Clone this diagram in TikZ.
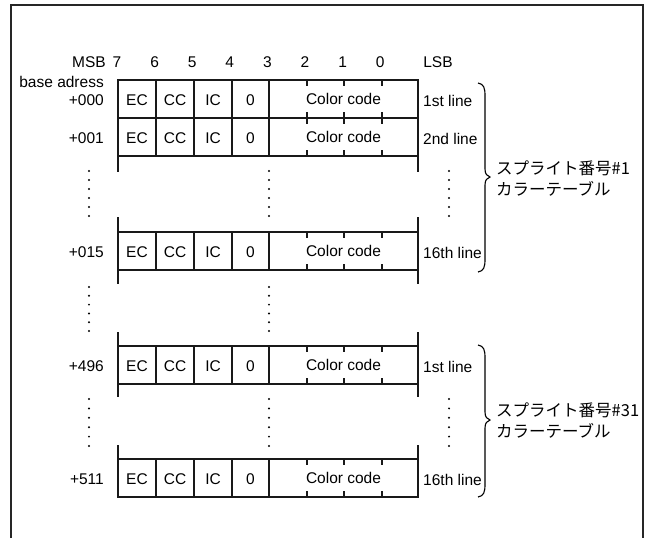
\documentclass[tikz,border=0pt]{standalone}
\usepackage{fontspec}
\setmainfont{Liberation Sans}
\newfontfamily\jpfont{Noto Sans CJK JP}
\begin{document}
\begin{tikzpicture}[x=1pt,y=-1pt,
  frame/.style={line width=1.8pt,draw=black!85},
  tbl/.style={line width=1.3pt,draw=black!90},
  lbl/.style={font=\fontsize{15.5}{17}\selectfont,inner sep=0pt},
  jp/.style={font=\jpfont\fontsize{16.5}{20}\selectfont,inner sep=0pt,anchor=west,align=left},
  brace/.style={line width=1.1pt}]
\useasboundingbox (0,0) rectangle (645,538);
% frame
\draw[frame] (11,538) -- (11,5) -- (643,5) -- (643,538);
% header
\node[lbl,anchor=east] (msb) at (106,62) {MSB};
\foreach \d [count=\i from 0] in {7,6,5,4,3,2,1,0}
  \node[lbl] (bit\d) at (117+37.6*\i,62) {\d};
\node[lbl] (lsb) at (438,62) {LSB};
\node[lbl,anchor=east] (base) at (104,82) {base adress};
% rows
\foreach \t/\a/\l/\n in {80/+000/1st line/r1, 118/+001/2nd line/r2, 232/+015/16th line/r3, 346/+496/1st line/r4, 459/+511/16th line/r5}{
  \draw[tbl] (118,\t) rectangle (418,\t+38);
  \foreach \x in {156,194,232,269} \draw[tbl] (\x,\t) -- (\x,\t+38);
  \foreach \x in {307,344,382} {
    \draw[tbl] (\x,\t) -- (\x,\t+6);
    \draw[tbl] (\x,\t+38) -- (\x,\t+32);
  }
  \node[lbl] (ec-\n) at (137,\t+20) {EC};
  \node[lbl] (cc-\n) at (175,\t+20) {CC};
  \node[lbl] (ic-\n) at (213,\t+20) {IC};
  \node[lbl] (z-\n) at (250.5,\t+20) {0};
  \node[lbl] (cd-\n) at (343.5,\t+18.5) {Color code};
  \node[lbl,anchor=east] (ad-\n) at (104,\t+20) {\a};
  \node[lbl,anchor=west] (ln-\n) at (423,\t+21) {\l};
}
% side extensions
\foreach \ya/\yb in {157/172, 217/232, 270/284, 332/346, 384/397, 445/459}{
  \draw[tbl] (118,\ya) -- (118,\yb);
  \draw[tbl] (418,\ya) -- (418,\yb);
}
% vertical dots
\foreach \x/\ya/\yb in {89/171/216, 89/287/331, 89/399/446,
                        269/171/216, 269/287/331, 269/399/446,
                        449/171/216, 449/399/446}{
  \foreach \i in {0,...,5}
    \fill (\x,{\ya+\i*(\yb-\ya)/5}) circle (1.1);
}
% braces
\draw[brace] (478,83) .. controls (484,84) and (485,88) .. (485,96) -- (485,169)
  .. controls (485,174) and (487,176) .. (490,177)
  .. controls (487,178) and (485,180) .. (485,185) -- (485,259)
  .. controls (485,267) and (484,271) .. (478,272);
\draw[brace] (478,345) .. controls (484,346) and (485,350) .. (485,358) -- (485,412)
  .. controls (485,417) and (487,419) .. (490,420)
  .. controls (487,421) and (485,423) .. (485,428) -- (485,484)
  .. controls (485,492) and (484,496) .. (478,497);
\node[jp] (t1) at (496,168) {スプライト番号\#1};
\node[jp] (t1b) at (496,189) {カラーテーブル};
\node[jp] (t2) at (496,410) {スプライト番号\#31};
\node[jp] (t2b) at (496,431) {カラーテーブル};
\end{tikzpicture}
\end{document}
